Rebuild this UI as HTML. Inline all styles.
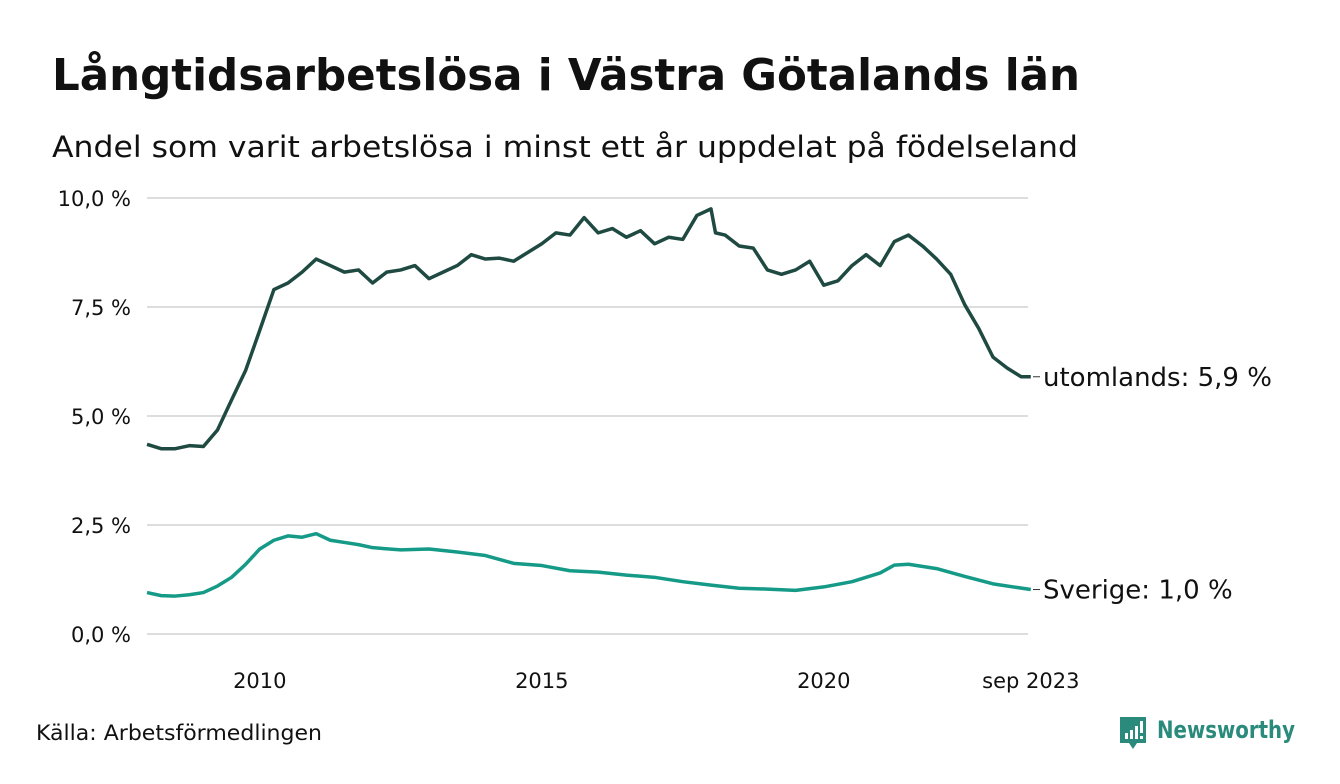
<!DOCTYPE html>
<html><head><meta charset="utf-8">
<style>
body{margin:0;background:#fff;font-family:"DejaVu Sans",sans-serif;}
svg text{font-family:"DejaVu Sans",sans-serif;}
</style></head>
<body>
<svg id="chart" width="1340" height="780" viewBox="0 0 1340 780" xmlns="http://www.w3.org/2000/svg">
<text x="52" y="90" font-size="44" font-weight="bold" fill="#111" textLength="1028" lengthAdjust="spacingAndGlyphs">Långtidsarbetslösa i Västra Götalands län</text>
<text x="52" y="157" font-size="29" fill="#111" textLength="1026" lengthAdjust="spacingAndGlyphs">Andel som varit arbetslösa i minst ett år uppdelat på födelseland</text>
<g id="grid"></g>
<g id="lines"></g>
<text x="36" y="740" font-size="21" fill="#111" textLength="286" lengthAdjust="spacingAndGlyphs">Källa: Arbetsförmedlingen</text>
<g>
<path d="M1120 717 h26 v26 h-9 l-4 6 l-4 -6 h-9 z" fill="#2a8a7c"/>
<rect x="1125" y="733" width="3" height="6" fill="#fff"/><rect x="1130" y="730" width="3" height="9" fill="#fff"/><rect x="1135" y="726" width="3" height="13" fill="#fff"/><rect x="1140" y="721" width="3" height="12" fill="#fff"/><rect x="1140" y="736" width="3" height="3" fill="#fff"/>
<text x="1157" y="738" font-size="24" font-weight="bold" fill="#2a8a7c" textLength="138" lengthAdjust="spacingAndGlyphs">Newsworthy</text>
</g>
</svg>
<script>
const yTicks=[0,2.5,5,7.5,10];
const yTickLabels=["0,0 %","2,5 %","5,0 %","7,5 %","10,0 %"];
const xTicks=[2010,2015,2020,2023.67];
const xTickLabels=["2010","2015","2020","sep 2023"];
const utDates=[2008,2008.25,2008.5,2008.75,2009,2009.25,2009.5,2009.75,2010,2010.25,2010.5,2010.75,2011,2011.25,2011.5,2011.75,2012,2012.25,2012.5,2012.75,2013,2013.25,2013.5,2013.75,2014,2014.25,2014.5,2014.75,2015,2015.25,2015.5,2015.75,2016,2016.25,2016.5,2016.75,2017,2017.25,2017.5,2017.75,2018,2018.08,2018.25,2018.5,2018.75,2019,2019.25,2019.5,2019.75,2020,2020.25,2020.5,2020.75,2021,2021.25,2021.5,2021.75,2022,2022.25,2022.5,2022.75,2023,2023.25,2023.5,2023.67];
const utValues=[4.35,4.25,4.25,4.32,4.3,4.68,5.37,6.05,6.97,7.9,8.05,8.3,8.6,8.45,8.3,8.35,8.05,8.3,8.35,8.45,8.15,8.3,8.45,8.7,8.6,8.62,8.55,8.75,8.95,9.2,9.15,9.55,9.2,9.3,9.1,9.25,8.95,9.1,9.05,9.6,9.75,9.2,9.15,8.9,8.85,8.35,8.25,8.35,8.55,8.0,8.1,8.45,8.7,8.45,9.0,9.15,8.9,8.6,8.25,7.55,7.0,6.35,6.1,5.9,5.9];
const svDates=[2008,2008.25,2008.5,2008.75,2009,2009.25,2009.5,2009.75,2010,2010.25,2010.5,2010.75,2011,2011.25,2011.5,2011.75,2012,2012.5,2013,2013.5,2014,2014.5,2015,2015.5,2016,2016.5,2017,2017.5,2018,2018.5,2019,2019.5,2020,2020.5,2021,2021.25,2021.5,2022,2022.5,2023,2023.67];
const svValues=[0.95,0.88,0.87,0.9,0.95,1.1,1.3,1.6,1.95,2.15,2.25,2.22,2.3,2.15,2.1,2.05,1.98,1.93,1.95,1.88,1.8,1.62,1.57,1.45,1.42,1.35,1.3,1.2,1.12,1.05,1.03,1.0,1.08,1.2,1.4,1.58,1.6,1.5,1.32,1.15,1.02];
const x=t=>147+(t-2008)*56.4;
const y=v=>634-v*43.6;
const NS="http://www.w3.org/2000/svg";
const grid=document.getElementById('grid'),lines=document.getElementById('lines');
function mk(tag,attrs,parent){const e=document.createElementNS(NS,tag);for(const k in attrs)e.setAttribute(k,attrs[k]);parent.appendChild(e);return e;}
yTicks.forEach((v,i)=>{
  const l=mk('line',{x1:147,x2:1028,y1:y(v),y2:y(v),stroke:'#ddd','stroke-width':2},grid);
  
  
  const t=mk('text',{x:131,y:y(v)+8,'font-size':21,'text-anchor':'end',fill:'#111'},grid);
  t.textContent=yTickLabels[i];
  
  
});
xTicks.forEach((v,i)=>{
  const t=mk('text',{x:x(v),y:688,'font-size':21,'text-anchor':'middle',fill:'#111'},grid);
  t.textContent=xTickLabels[i];
  
  
});
function series(d,v,color,label,name){
  const p=mk('polyline',{points:d.map((t,i)=>x(t)+','+y(v[i])).join(' '),fill:'none',stroke:color,'stroke-width':3.5,'stroke-linejoin':'round'},lines);
  
  
  const ly=y(v[v.length-1]);
  mk('line',{x1:1033,x2:1040,y1:ly,y2:ly,stroke:'#333','stroke-width':1},lines);
  const t=mk('text',{x:1043,y:ly+9,'font-size':26,fill:'#111'},lines);
  t.textContent=label+': '+v[v.length-1].toFixed(1).replace('.',',')+' %';
  
  
}
series(utDates,utValues,'#1f4a42','utomlands','utomlands');
series(svDates,svValues,'#159a88','Sverige','sverige');
</script>
</body></html>
